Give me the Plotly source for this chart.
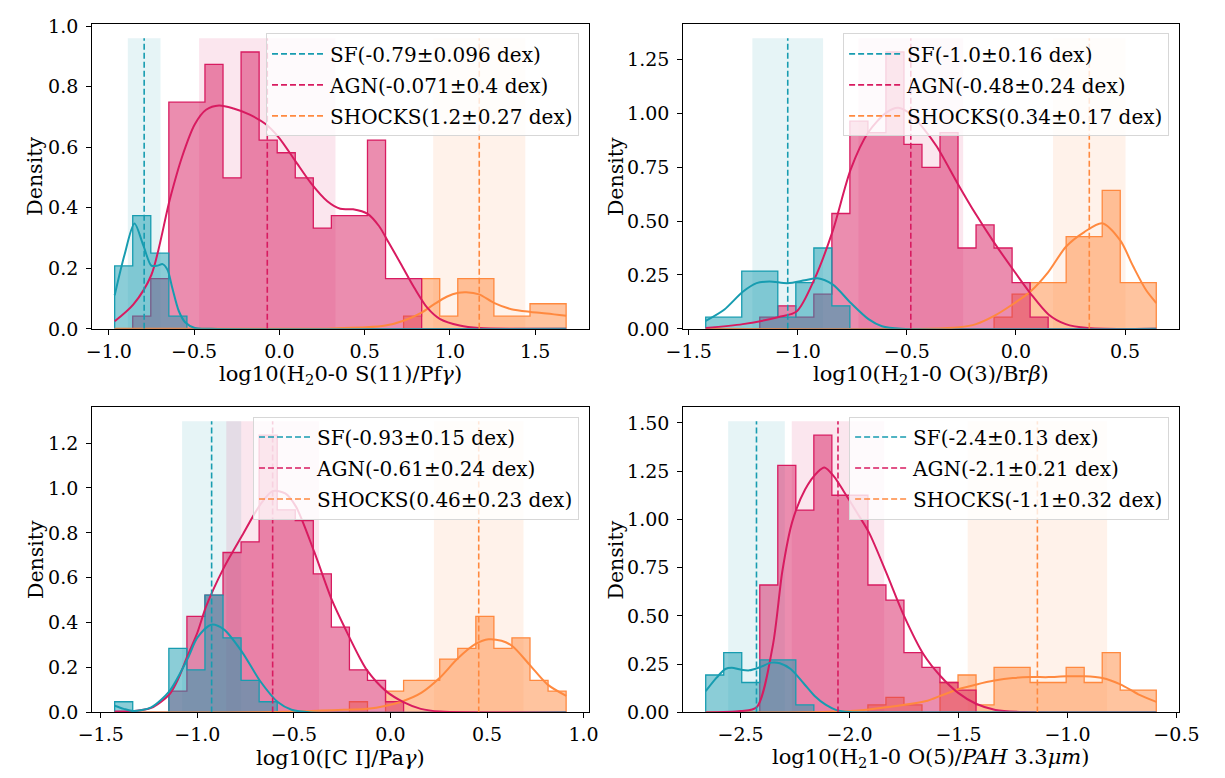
import plotly.graph_objects as go

W, H = 1225, 778
FONT = "DejaVu Serif"

GROUP_NAMES = ["SF", "AGN", "SHOCKS"]
GROUP_RGB = [(23, 156, 176), (216, 27, 96), (255, 137, 63)]
YLABEL = "Density"

# ---------------- Panel 1 ----------------
P1_XLABEL = "log10(H<sub>2</sub>0-0 S(11)/Pf<i>γ</i>)"
P1_BIN_START = -0.966
P1_BIN_WIDTH = 0.1059
P1_HIST_SF = [0.208, 0.374, 0.250, 0.042, 0, 0, 0, 0, 0, 0, 0, 0, 0, 0, 0, 0, 0, 0, 0, 0, 0, 0, 0, 0, 0]
P1_HIST_AGN = [0, 0.042, 0.166, 0.749, 0.749, 0.874, 0.499, 0.915, 0.624, 0.582, 0.499, 0.333, 0.374,
               0.374, 0.624, 0.166, 0.166, 0, 0, 0, 0, 0, 0, 0, 0]
P1_HIST_SHOCKS = [0, 0, 0, 0, 0, 0, 0, 0, 0, 0, 0, 0, 0, 0, 0, 0, 0.042, 0.166, 0.042, 0.166, 0.166,
                  0.042, 0.042, 0.083, 0.083]
P1_KDE_SF_X = [-0.966, -0.909, -0.850, -0.798, -0.751, -0.714, -0.685, -0.656, -0.628, -0.590, -0.553,
               -0.496, -0.40, 1.682]
P1_KDE_SF_Y = [0.111, 0.243, 0.348, 0.276, 0.209, 0.209, 0.214, 0.195, 0.135, 0.059, 0.022, 0.003, 0.0, 0.0]
P1_KDE_AGN_X = [-0.966, -0.856, -0.751, -0.643, -0.571, -0.496, -0.430, -0.354, -0.269, -0.174, -0.079,
                -0.003, 0.091, 0.186, 0.281, 0.357, 0.432, 0.517, 0.584, 0.640, 0.716, 0.792, 0.867, 0.943,
                1.057, 1.171, 1.682]
P1_KDE_AGN_Y = [0.025, 0.081, 0.178, 0.427, 0.568, 0.676, 0.724, 0.738, 0.728, 0.708, 0.676, 0.632, 0.557,
                0.481, 0.422, 0.397, 0.395, 0.380, 0.340, 0.286, 0.211, 0.135, 0.070, 0.032, 0.011, 0.003, 0.0]
P1_KDE_SHOCKS_X = [-0.966, 0.20, 0.337, 0.508, 0.622, 0.728, 0.834, 0.906, 0.981, 1.050, 1.095, 1.171,
                   1.258, 1.360, 1.474, 1.568, 1.682]
P1_KDE_SHOCKS_Y = [0.0, 0.0, 0.002, 0.005, 0.011, 0.027, 0.054, 0.081, 0.106, 0.119, 0.121, 0.114, 0.086,
                   0.065, 0.056, 0.051, 0.043]
P1_MEAN = [-0.793, -0.071, 1.172]
P1_STD = [0.096, 0.40, 0.27]

# ---------------- Panel 2 ----------------
P2_XLABEL = "log10(H<sub>2</sub>1-0 O(3)/Br<i>β</i>)"
P2_BIN_START = -1.422
P2_BIN_WIDTH = 0.0826
P2_HIST_SF = [0.054, 0.054, 0.268, 0.268, 0.054, 0.214, 0.375, 0.107, 0, 0, 0, 0, 0, 0, 0, 0, 0, 0, 0, 0,
              0, 0, 0, 0, 0]
P2_HIST_AGN = [0, 0, 0, 0.054, 0.107, 0.054, 0.161, 0.535, 0.963, 0.910, 1.284, 0.856, 0.749, 0.910, 0.375,
               0.482, 0.375, 0.214, 0.054, 0, 0, 0, 0, 0, 0]
P2_HIST_SHOCKS = [0, 0, 0, 0, 0, 0, 0, 0, 0, 0, 0, 0, 0, 0, 0, 0, 0.054, 0.161, 0.214, 0.214, 0.428, 0.428,
                  0.642, 0.214, 0.214]
P2_KDE_SF_X = [-1.422, -1.336, -1.252, -1.189, -1.130, -1.046, -0.968, -0.909, -0.839, -0.757, -0.676,
               -0.614, -0.525, 0.643]
P2_KDE_SF_Y = [0.037, 0.090, 0.172, 0.212, 0.220, 0.212, 0.225, 0.235, 0.205, 0.120, 0.045, 0.012, 0.0, 0.0]
P2_KDE_AGN_X = [-1.422, -1.252, -1.087, -1.004, -0.923, -0.839, -0.757, -0.676, -0.594, -0.540, -0.482,
                -0.429, -0.363, -0.265, -0.183, -0.100, -0.017, 0.066, 0.149, 0.228, 0.330, 0.643]
P2_KDE_AGN_Y = [0.004, 0.022, 0.055, 0.082, 0.232, 0.457, 0.741, 0.913, 1.003, 1.025, 0.995, 0.936, 0.846,
                0.670, 0.530, 0.400, 0.280, 0.165, 0.067, 0.022, 0.004, 0.0]
P2_KDE_SHOCKS_X = [-1.422, -0.40, -0.260, -0.183, -0.100, -0.018, 0.065, 0.147, 0.230, 0.313, 0.395, 0.478,
                   0.537, 0.596, 0.643]
P2_KDE_SHOCKS_Y = [0.0, 0.0, 0.007, 0.022, 0.060, 0.112, 0.172, 0.262, 0.382, 0.449, 0.490, 0.410, 0.290,
                   0.180, 0.120]
P2_MEAN = [-1.046, -0.482, 0.336]
P2_STD = [0.162, 0.24, 0.166]

# ---------------- Panel 3 ----------------
P3_XLABEL = "log10([C I]/Pa<i>γ</i>)"
P3_BIN_START = -1.428
P3_BIN_WIDTH = 0.0935
P3_HIST_SF = [0.0475, 0, 0, 0.285, 0.190, 0.5225, 0.3325, 0.1425, 0.0475, 0, 0, 0, 0, 0, 0, 0, 0, 0, 0, 0,
              0, 0, 0, 0, 0]
P3_HIST_AGN = [0, 0, 0, 0.095, 0.4275, 0.5225, 0.7125, 0.760, 1.235, 0.9025, 0.855, 0.6175, 0.380, 0.190,
               0.1425, 0.0475, 0, 0, 0, 0, 0, 0, 0, 0, 0]
P3_HIST_SHOCKS = [0, 0, 0, 0, 0, 0, 0, 0, 0, 0, 0, 0, 0, 0.0475, 0, 0.095, 0.1425, 0.1425, 0.2375, 0.285,
                  0.4275, 0.285, 0.3325, 0.1425, 0.095]
P3_KDE_SF_X = [-1.428, -1.381, -1.331, -1.239, -1.144, -1.050, -1.000, -0.928, -0.863, -0.768, -0.674,
               -0.582, -0.512, -0.411, 0.910]
P3_KDE_SF_Y = [0.030, 0.016, 0.006, 0.023, 0.095, 0.240, 0.333, 0.391, 0.370, 0.269, 0.139, 0.045, 0.012,
               0.0, 0.0]
P3_KDE_AGN_X = [-1.428, -1.330, -1.239, -1.144, -1.097, -1.050, -1.000, -0.955, -0.863, -0.768, -0.674,
                -0.610, -0.545, -0.490, -0.395, -0.303, -0.227, -0.160, -0.119, -0.023, 0.070, 0.157,
                0.258, 0.910]
P3_KDE_AGN_Y = [0.004, 0.006, 0.020, 0.081, 0.153, 0.254, 0.355, 0.471, 0.644, 0.788, 0.926, 0.986, 0.976,
                0.918, 0.716, 0.500, 0.360, 0.245, 0.185, 0.095, 0.045, 0.016, 0.004, 0.0]
P3_KDE_SHOCKS_X = [-1.428, -0.60, -0.227, -0.119, -0.023, 0.070, 0.161, 0.254, 0.348, 0.441, 0.508, 0.575,
                   0.629, 0.722, 0.814, 0.910]
P3_KDE_SHOCKS_Y = [0.0, 0.002, 0.012, 0.016, 0.030, 0.052, 0.088, 0.153, 0.240, 0.305, 0.326, 0.319, 0.297,
                   0.211, 0.124, 0.074]
P3_MEAN = [-0.926, -0.61, 0.457]
P3_STD = [0.153, 0.24, 0.232]

# ---------------- Panel 4 ----------------
P4_XLABEL = "log10(H<sub>2</sub>1-0 O(5)/<i>PAH</i> 3.3<i>μm</i>)"
P4_BIN_START = -2.66
P4_BIN_WIDTH = 0.0827
P4_HIST_SF = [0.194, 0.310, 0.155, 0.272, 0.272, 0.039, 0, 0, 0, 0, 0, 0, 0, 0, 0, 0, 0, 0, 0, 0, 0, 0, 0,
              0, 0]
P4_HIST_AGN = [0, 0, 0, 0.660, 1.280, 1.048, 1.436, 1.125, 1.125, 0.660, 0.582, 0.310, 0.233, 0.155, 0.116,
               0, 0, 0, 0, 0, 0, 0, 0, 0, 0]
P4_HIST_SHOCKS = [0, 0, 0, 0, 0, 0, 0, 0, 0, 0.039, 0.078, 0.039, 0, 0.155, 0.194, 0.039, 0.233, 0.233,
                  0.155, 0.155, 0.233, 0.155, 0.310, 0.116, 0.116]
P4_KDE_SF_X = [-2.66, -2.61, -2.57, -2.54, -2.50, -2.46, -2.41, -2.36, -2.32, -2.27, -2.21, -2.16, -2.11,
               -2.06, -2.00, -1.90, -0.592]
P4_KDE_SF_Y = [0.110, 0.180, 0.225, 0.232, 0.222, 0.218, 0.235, 0.258, 0.255, 0.225, 0.150, 0.085, 0.040,
               0.012, 0.002, 0.0, 0.0]
P4_KDE_AGN_X = [-2.66, -2.50, -2.426, -2.352, -2.308, -2.263, -2.204, -2.145, -2.115, -2.071, -2.027,
                -1.967, -1.91, -1.83, -1.75, -1.66, -1.58, -1.50, -1.42, -1.33, -1.20, -0.592]
P4_KDE_AGN_Y = [0.0, 0.007, 0.027, 0.347, 0.734, 0.987, 1.155, 1.247, 1.269, 1.222, 1.146, 1.037, 0.930,
                0.720, 0.500, 0.300, 0.185, 0.100, 0.045, 0.013, 0.002, 0.0]
P4_KDE_SHOCKS_X = [-2.66, -2.20, -1.997, -1.830, -1.642, -1.583, -1.501, -1.417, -1.335, -1.251, -1.169,
                   -1.086, -1.006, -0.923, -0.840, -0.757, -0.675, -0.592]
P4_KDE_SHOCKS_Y = [0.0, 0.001, 0.007, 0.027, 0.061, 0.086, 0.120, 0.145, 0.165, 0.178, 0.183, 0.183, 0.187,
                   0.187, 0.178, 0.145, 0.094, 0.055]
P4_MEAN = [-2.427, -2.053, -1.138]
P4_STD = [0.13, 0.212, 0.32]

PANELS = [
    dict(xlabel=P1_XLABEL, start=P1_BIN_START, width=P1_BIN_WIDTH,
         hist=[P1_HIST_SF, P1_HIST_AGN, P1_HIST_SHOCKS],
         kde=[(P1_KDE_SF_X, P1_KDE_SF_Y), (P1_KDE_AGN_X, P1_KDE_AGN_Y), (P1_KDE_SHOCKS_X, P1_KDE_SHOCKS_Y)],
         mean=P1_MEAN, std=P1_STD, xdtick=0.5, xfmt=".1f", ydtick=0.2, yfmt=".1f"),
    dict(xlabel=P2_XLABEL, start=P2_BIN_START, width=P2_BIN_WIDTH,
         hist=[P2_HIST_SF, P2_HIST_AGN, P2_HIST_SHOCKS],
         kde=[(P2_KDE_SF_X, P2_KDE_SF_Y), (P2_KDE_AGN_X, P2_KDE_AGN_Y), (P2_KDE_SHOCKS_X, P2_KDE_SHOCKS_Y)],
         mean=P2_MEAN, std=P2_STD, xdtick=0.5, xfmt=".1f", ydtick=0.25, yfmt=".2f"),
    dict(xlabel=P3_XLABEL, start=P3_BIN_START, width=P3_BIN_WIDTH,
         hist=[P3_HIST_SF, P3_HIST_AGN, P3_HIST_SHOCKS],
         kde=[(P3_KDE_SF_X, P3_KDE_SF_Y), (P3_KDE_AGN_X, P3_KDE_AGN_Y), (P3_KDE_SHOCKS_X, P3_KDE_SHOCKS_Y)],
         mean=P3_MEAN, std=P3_STD, xdtick=0.5, xfmt=".1f", ydtick=0.2, yfmt=".1f"),
    dict(xlabel=P4_XLABEL, start=P4_BIN_START, width=P4_BIN_WIDTH,
         hist=[P4_HIST_SF, P4_HIST_AGN, P4_HIST_SHOCKS],
         kde=[(P4_KDE_SF_X, P4_KDE_SF_Y), (P4_KDE_AGN_X, P4_KDE_AGN_Y), (P4_KDE_SHOCKS_X, P4_KDE_SHOCKS_Y)],
         mean=P4_MEAN, std=P4_STD, xdtick=0.5, xfmt=".1f", ydtick=0.25, yfmt=".2f"),
]

# axes boxes in pixels (left, right, top, bottom) and y-title centre x
BOXES = [(77.5, 590, 15, 328.3), (687.5, 1199, 15, 328.3), (77.5, 590, 408.3, 722), (687.5, 1199, 408.3, 722)]
YTITLE_X = [19, 618, 19, 618]


def rgba(rgb, a):
    return "rgba(%d,%d,%d,%.3f)" % (rgb[0], rgb[1], rgb[2], a)


def fmt2(v):
    return str(float("%.2g" % v))


fig = go.Figure()
layout = {}
shapes = []
annotations = []
tick_font = dict(family=FONT, size=19, color="black")

for k, p in enumerate(PANELS):
    sfx = "" if k == 0 else str(k + 1)
    xr, yr = "x" + sfx, "y" + sfx
    leg = "legend" + sfx
    n = len(p["hist"][0])
    edges = [p["start"] + i * p["width"] for i in range(n + 1)]
    top = max(max(h) for h in p["hist"])
    span_top = 1.05 * top
    y_top = 1.05 * span_top
    x0, x1 = edges[0], edges[-1]
    rng = x1 - x0

    for g in range(3):
        shapes.append(dict(type="rect", xref=xr, yref=yr, x0=p["mean"][g] - p["std"][g],
                           x1=p["mean"][g] + p["std"][g], y0=0, y1=span_top,
                           fillcolor=rgba(GROUP_RGB[g], 0.11), line=dict(width=0), layer="below"))

    for g in [2, 1, 0]:
        h = p["hist"][g]
        xs, ys = [edges[0]], [0]
        for i in range(n):
            xs += [edges[i], edges[i + 1]]
            ys += [h[i], h[i]]
        xs += [edges[-1], edges[0]]
        ys += [0, 0]
        fig.add_trace(go.Scatter(x=xs, y=ys, mode="lines", fill="toself",
                                 fillcolor=rgba(GROUP_RGB[g], 0.5),
                                 line=dict(color=rgba(GROUP_RGB[g], 1), width=1.3),
                                 xaxis=xr, yaxis=yr, showlegend=False, hoverinfo="skip"))
    for g in [2, 1, 0]:
        kx, ky = p["kde"][g]
        fig.add_trace(go.Scatter(x=kx, y=ky, mode="lines",
                                 line=dict(color=rgba(GROUP_RGB[g], 1), width=2, shape="spline", smoothing=0.8),
                                 xaxis=xr, yaxis=yr, showlegend=False, hoverinfo="skip"))
    for g in range(3):
        label = "%s(%s±%s dex)" % (GROUP_NAMES[g], fmt2(p["mean"][g]), fmt2(p["std"][g]))
        fig.add_trace(go.Scatter(x=[p["mean"][g], p["mean"][g]], y=[0, span_top], mode="lines",
                                 line=dict(color=rgba(GROUP_RGB[g], 1), width=1.6, dash="6px,3px"),
                                 name=label, legend=leg, legendgroup="g%d%d" % (k, g),
                                 xaxis=xr, yaxis=yr, hoverinfo="skip"))

    L, R, T, B = BOXES[k]
    layout["xaxis" + sfx] = dict(domain=[L / W, R / W], anchor=yr, range=[x0 - 0.05 * rng, x1 + 0.05 * rng],
                                 showline=True, mirror=True, linecolor="black", linewidth=1,
                                 ticks="outside", ticklen=5, tickwidth=1, tickcolor="black",
                                 showgrid=False, zeroline=False, tick0=0, dtick=p["xdtick"],
                                 tickformat=p["xfmt"], tickfont=tick_font)
    layout["yaxis" + sfx] = dict(domain=[1 - B / H, 1 - T / H], anchor=xr, range=[0, y_top],
                                 showline=True, mirror=True, linecolor="black", linewidth=1,
                                 ticks="outside", ticklen=5, tickwidth=1, tickcolor="black",
                                 showgrid=False, zeroline=False, tick0=0, dtick=p["ydtick"],
                                 tickformat=p["yfmt"], tickfont=tick_font, ticklabelstandoff=4)
    layout[leg] = dict(x=(R - 10) / W, y=1 - (T + 10) / H, xanchor="right", yanchor="top",
                       bgcolor="rgba(255,255,255,0.8)", bordercolor="rgb(215,215,215)", borderwidth=1,
                       font=dict(family=FONT, size=20, color="black"), tracegroupgap=2, itemwidth=53,
                       traceorder="grouped")
    annotations.append(dict(text=p["xlabel"], xref="paper", yref="paper", x=(L + R) / 2 / W,
                            y=1 - (B + 47) / H, xanchor="center", yanchor="middle", showarrow=False,
                            font=dict(family=FONT, size=21, color="black")))
    annotations.append(dict(text=YLABEL, xref="paper", yref="paper", x=YTITLE_X[k] / W,
                            y=1 - (T + B) / 2 / H, xanchor="center", yanchor="middle", showarrow=False,
                            textangle=-90, font=dict(family=FONT, size=20.5, color="black")))

fig.update_layout(width=W, height=H, margin=dict(l=0, r=0, t=0, b=0), plot_bgcolor="white",
                  paper_bgcolor="white", shapes=shapes, annotations=annotations, **layout)
fig.write_html("out.html")
